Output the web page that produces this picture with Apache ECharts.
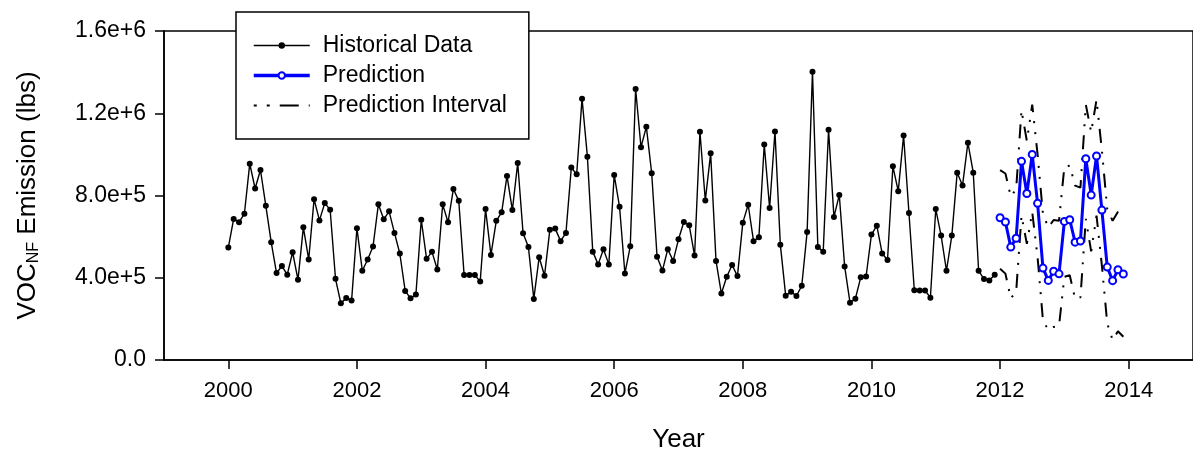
<!DOCTYPE html>
<html>
<head>
<meta charset="utf-8">
<script src="https://cdn.jsdelivr.net/npm/echarts@6/dist/echarts.min.js"></script>
<style>
  html, body { margin: 0; padding: 0; background: #fff; }
  #chart { width: 1193px; height: 458px; }
</style>
</head>
<body>
<div id="chart"></div>
<script>
// monthly values in thousands of lbs, Jan..Dec
const histStart = 2000
const histData = [
  547, 686, 670, 711, 955, 834, 924, 750, 573, 423, 457, 415,   // 2000
  524, 390, 645, 489, 782, 679, 763, 731, 395, 276, 302, 289,   // 2001
  641, 434, 489, 552, 757, 684, 723, 618, 518, 336, 300, 318,   // 2002
  682, 492, 526, 440, 757, 670, 832, 774, 413, 413, 413, 382,   // 2003
  734, 511, 677, 718, 895, 729, 958, 616, 549, 297, 500, 410,   // 2004
  634, 639, 578, 618, 936, 903, 1271, 989, 527, 465, 539, 465,  // 2005
  900, 745, 421, 553, 1318, 1035, 1134, 908, 502, 435, 539, 482, // 2006
  587, 671, 655, 508, 1110, 776, 1005, 482, 323, 405, 462, 408, // 2007
  668, 755, 578, 597, 1048, 739, 1111, 561, 313, 332, 311, 361, // 2008
  623, 1402, 550, 527, 1120, 695, 803, 455, 279, 298, 402, 406, // 2009
  610, 653, 518, 486, 942, 821, 1092, 715, 339, 338, 338, 303,  // 2010
  734, 605, 434, 605, 911, 849, 1057, 911, 434, 394, 387, 415   // 2011
]
const predStart = 2012
const predData = [
  692, 671, 549, 592, 966, 810, 1000, 762, 447, 387, 432, 419,  // 2012
  674, 682, 573, 579, 979, 802, 992, 729, 452, 386, 439, 418    // 2013
]
const upperData = [
  923, 907, 795, 830, 1215, 1065, 1242, 1000, 710, 645, 681, 677,
  940, 945, 848, 838, 1242, 1108, 1266, 1020, 734, 677, 721, 699
]
const lowerData = [
  444, 420, 300, 331, 702, 565, 720, 500, 194, 145, 161, 165,
  405, 412, 298, 305, 686, 528, 702, 459, 178, 97, 140, 113
]
const yearTicks = [2000, 2002, 2004, 2006, 2008, 2010, 2012, 2014]
const yTicks = [0, 400000, 800000, 1200000, 1600000]
const yTickLabels = ['0.0', '4.0e+5', '8.0e+5', '1.2e+6', '1.6e+6']

const FONT = 'Liberation Sans, Arial, sans-serif'

function toPoints(start, arr) {
  return arr.map((v, i) => [start + i / 12, v * 1000])
}

const chart = echarts.init(document.getElementById('chart'), null, { renderer: 'canvas' })

const intervalStyle = {
  color: '#000',
  width: 2,
  type: [14, 9, 2, 9, 2, 9]
}

chart.setOption({
  animation: false,
  backgroundColor: '#fff',
  textStyle: { fontFamily: FONT, color: '#000' },
  grid: {
    left: 164,
    right: -5,
    top: 31,
    bottom: 96,
    show: true,
    borderColor: '#000',
    borderWidth: 1.5
  },
  legend: {
    data: [
      { name: 'Historical Data', lineStyle: { width: 1.4 } },
      { name: 'Prediction', lineStyle: { width: 3.5 } },
      { name: 'Prediction Interval', itemStyle: { opacity: 0 }, lineStyle: { width: 2, type: [3, 10, 3, 10, 16, 0] } }
    ],
    orient: 'vertical',
    left: 236,
    top: 12,
    padding: [22, 22, 22, 16],
    itemGap: 7,
    itemWidth: 56,
    itemHeight: 8,
    backgroundColor: '#fff',
    borderColor: '#000',
    borderWidth: 1.5,
    borderRadius: 0,
    textStyle: { fontSize: 23, fontFamily: FONT, color: '#000', padding: [0, 0, 0, 8] }
  },
  xAxis: {
    type: 'value',
    min: 1999,
    max: 2015,
    name: 'Year',
    nameLocation: 'middle',
    nameGap: 67,
    nameTextStyle: { fontSize: 26, fontFamily: FONT, color: '#000' },
    axisLine: { show: true, lineStyle: { color: '#000', width: 1.5 } },
    axisTick: {
      show: true,
      length: 9,
      customValues: yearTicks,
      lineStyle: { color: '#000', width: 1.5 }
    },
    axisLabel: {
      customValues: yearTicks,
      margin: 20,
      fontSize: 22,
      fontFamily: FONT,
      color: '#000',
      formatter: v => String(Math.round(v))
    },
    splitLine: { show: false }
  },
  yAxis: {
    type: 'value',
    min: 0,
    max: 1600000,
    name: '{a|VOC}{b|NF}{a| Emission (lbs)}',
    nameLocation: 'middle',
    nameRotate: 90,
    nameGap: 122,
    nameTextStyle: {
      rich: {
        a: { fontSize: 26, fontFamily: FONT, color: '#000' },
        b: { fontSize: 16, fontFamily: FONT, color: '#000', padding: [12, 0, 0, 0] }
      }
    },
    axisLine: { show: true, lineStyle: { color: '#000', width: 1.5 } },
    axisTick: {
      show: true,
      length: 9,
      customValues: yTicks,
      lineStyle: { color: '#000', width: 1.5 }
    },
    axisLabel: {
      customValues: yTicks,
      margin: 18,
      fontSize: 23,
      fontFamily: FONT,
      color: '#000',
      formatter: v => yTickLabels[yTicks.indexOf(Math.round(v))] ?? ''
    },
    splitLine: { show: false }
  },
  series: [
    {
      name: 'Prediction Interval',
      type: 'line',
      data: toPoints(predStart, upperData),
      symbol: 'none',
      itemStyle: { color: '#000' },
      lineStyle: intervalStyle,
      z: 2
    },
    {
      name: 'Prediction Interval',
      type: 'line',
      data: toPoints(predStart, lowerData),
      symbol: 'none',
      itemStyle: { color: '#000' },
      lineStyle: intervalStyle,
      z: 2
    },
    {
      name: 'Historical Data',
      type: 'line',
      data: toPoints(histStart, histData),
      symbol: 'circle',
      symbolSize: 6,
      itemStyle: { color: '#000' },
      lineStyle: { color: '#000', width: 1.4 },
      z: 3
    },
    {
      name: 'Prediction',
      type: 'line',
      data: toPoints(predStart, predData),
      symbol: 'emptyCircle',
      symbolSize: 7,
      itemStyle: { color: '#0000ff', borderWidth: 1.5 },
      lineStyle: { color: '#0000ff', width: 3 },
      z: 4
    }
  ]
})
</script>
</body>
</html>
